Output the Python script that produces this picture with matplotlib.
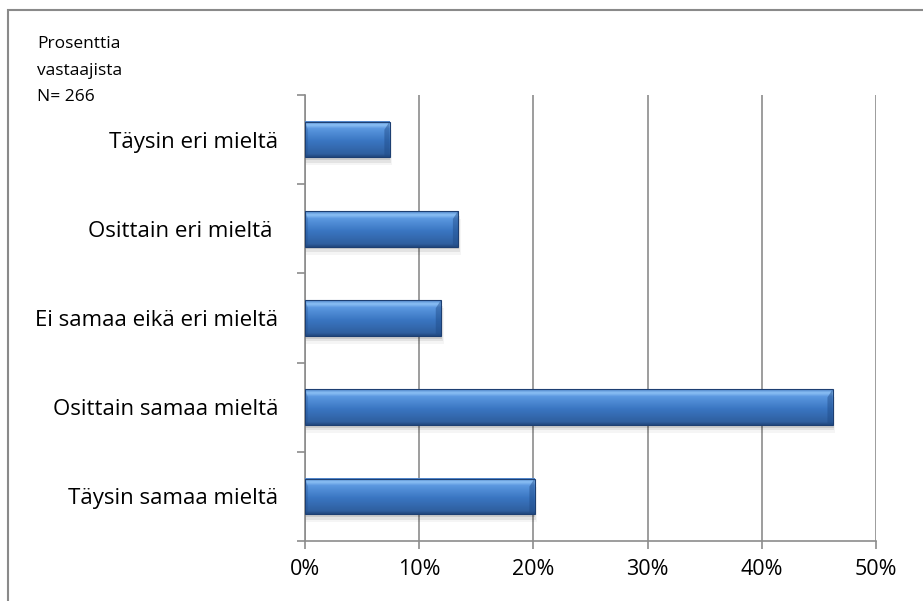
import numpy as np
import matplotlib.pyplot as plt
from matplotlib.patches import Rectangle, Polygon
from matplotlib.colors import LinearSegmentedColormap

# Vastausjakauma (%), alhaalta ylös
categories = ["Täysin samaa mieltä", "Osittain samaa mieltä", "Ei samaa eikä eri mieltä",
              "Osittain eri mieltä ", "Täysin eri mieltä"]
values = [20.1, 46.2, 11.9, 13.4, 7.4]
xticks = [0, 10, 20, 30, 40, 50]
xticklabels = ["0%", "10%", "20%", "30%", "40%", "50%"]

plt.rcParams['font.family'] = ['Open Sans', 'DejaVu Sans']

W, H = 923, 601
fig = plt.figure(figsize=(W / 100, H / 100), dpi=100)
ax = fig.add_axes([305 / W, 1 - 541 / H, (876 - 305) / W, (541 - 95) / H])

grid_c = "#8c8c8c"
bar_h = 0.4
cmap = LinearSegmentedColormap.from_list(
    "bevel", [(0.0, "#22487e"), (0.08, "#2f5f9f"), (0.45, "#3a76c2"),
              (0.8, "#5b98e0"), (0.9, "#8cc0f5"), (1.0, "#4f86cc")])
grad = np.linspace(0, 1, 64).reshape(-1, 1)

for i, v in enumerate(values):
    y0, y1 = i - bar_h / 2, i + bar_h / 2
    # varjo
    for k, a in enumerate([0.10, 0.07, 0.04]):
        ax.add_patch(Rectangle((0, y0 - 0.03 * (k + 1)), v + 0.08 * (k + 1), bar_h,
                               color="black", alpha=a, lw=0, zorder=2))
    ax.imshow(grad, extent=(0, v, y0, y1), origin="lower", cmap=cmap,
              aspect="auto", zorder=3, interpolation="bilinear")
    # viistetyt päädyt
    d = 0.45
    ax.add_patch(Polygon([(v, y1), (v - d, y1 - 0.09), (v - d, y0 + 0.02), (v, y0)],
                         closed=True, color="#1f4a86", alpha=0.45, lw=0, zorder=4))
    ax.add_patch(Polygon([(0, y1), (d * 0.6, y1 - 0.09), (d * 0.6, y0 + 0.02), (0, y0)],
                         closed=True, color="#1f4a86", alpha=0.25, lw=0, zorder=4))
    ax.add_patch(Rectangle((0, y0), v, bar_h, fill=False, ec="#1d3f72", lw=0.8, zorder=5))

ax.set_xlim(0, 50)
ax.set_ylim(-0.5, 4.5)
ax.set_xticks(xticks)
ax.set_xticklabels(xticklabels, fontsize=15.5)
ax.set_yticks(range(len(categories)))
ax.set_yticklabels(categories, fontsize=16)
ax.set_yticks(np.arange(-0.5, 5, 1), minor=True)
ax.tick_params(axis="y", which="major", length=0, pad=19)
ax.tick_params(axis="y", which="minor", length=6, color=grid_c, width=1.2)
ax.tick_params(axis="x", length=6, color=grid_c, width=1.2, pad=7)
ax.xaxis.grid(True, color=grid_c, lw=1.2, zorder=0)
ax.set_axisbelow(True)
for s in ["top", "right"]:
    ax.spines[s].set_visible(False)
for s in ["left", "bottom"]:
    ax.spines[s].set_color(grid_c)
    ax.spines[s].set_linewidth(1.2)

fig.text(37 / W, 1 - 44 / H, "Prosenttia", fontsize=12.5, va="center")
fig.text(37 / W, 1 - 71 / H, "vastaajista", fontsize=12.5, va="center")
fig.text(37 / W, 1 - 97 / H, "N= 266", fontsize=12.5, va="center")

fig.add_artist(Rectangle((8 / W, -0.01), 1, 1 - 10 / H + 0.01, transform=fig.transFigure,
                         fill=False, ec="#8a8a8a", lw=1.5))

fig.savefig("out.png", dpi=100)
